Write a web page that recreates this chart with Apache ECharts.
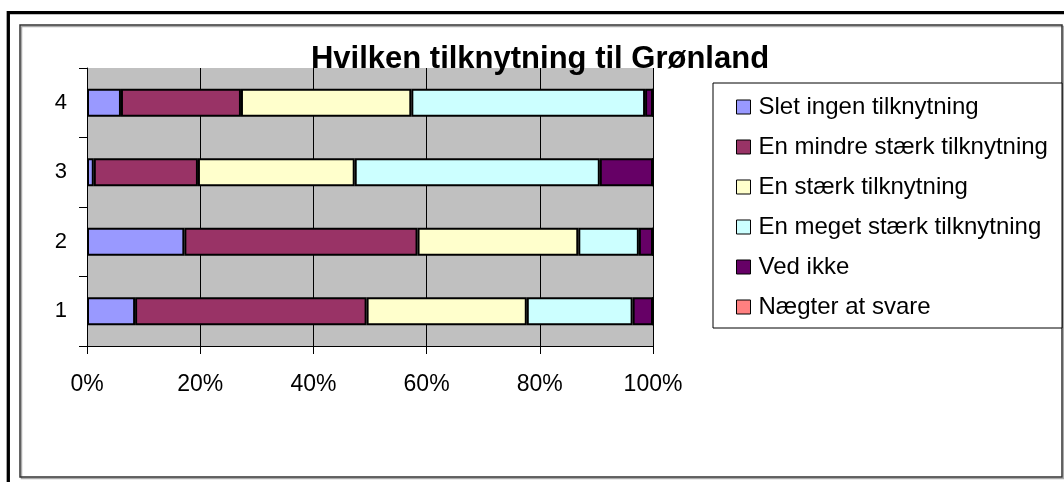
<!DOCTYPE html>
<html>
<head>
<meta charset="utf-8">
<script src="https://cdn.jsdelivr.net/npm/echarts@6/dist/echarts.min.js"></script>
<style>
html,body{margin:0;padding:0;background:#fff;}
#c{width:1064px;height:482px;}
</style>
</head>
<body>
<div id="c"></div>
<script>
const categories = ['1', '2', '3', '4'];
const xTicks = [0, 20, 40, 60, 80, 100];
const seriesNames = ['Slet ingen tilknytning', 'En mindre stærk tilknytning', 'En stærk tilknytning', 'En meget stærk tilknytning', 'Ved ikke', 'Nægter at svare'];
const sletIngen = [8.5, 17.2, 1.2, 6.0];
const mindreStaerk = [40.9, 41.2, 18.4, 21.2];
const staerk = [28.3, 28.4, 27.7, 30.1];
const megetStaerk = [18.7, 10.7, 43.3, 41.3];
const vedIkke = [3.6, 2.5, 9.4, 1.4];
const naegter = [0, 0, 0, 0];
const titleText = 'Hvilken tilknytning til Grønland';

const colors = ['#9999FF', '#993366', '#FFFFCC', '#CCFFFF', '#660066', '#FF8080'];
const values = [sletIngen, mindreStaerk, staerk, megetStaerk, vedIkke, naegter];
const FONT = "'Liberation Sans', Arial, sans-serif";

const chart = echarts.init(document.getElementById('c'), null, {renderer: 'canvas'});
chart.setOption({
  animation: false,
  backgroundColor: '#fff',
  textStyle: {fontFamily: FONT},
  grid: {left: 87, right: 411, top: 68, bottom: 136, show: true, backgroundColor: '#C0C0C0', borderWidth: 0, containLabel: false},
  xAxis: {
    type: 'value', min: xTicks[0], max: xTicks[xTicks.length - 1], interval: 20,
    axisLine: {show: true, lineStyle: {color: '#000', width: 1}},
    axisTick: {show: true, length: 8, lineStyle: {color: '#000'}},
    splitLine: {show: true, lineStyle: {color: '#000', width: 1}},
    axisLabel: {formatter: '{value}%', margin: 27, fontSize: 23, color: '#000', fontFamily: FONT}
  },
  yAxis: {
    type: 'category', data: categories,
    axisLine: {show: true, lineStyle: {color: '#000', width: 1}},
    axisTick: {show: true, length: 8, alignWithLabel: false, lineStyle: {color: '#000'}},
    splitLine: {show: false},
    axisLabel: {margin: 20, fontSize: 22, color: '#000', fontFamily: FONT}
  },
  legend: {
    orient: 'vertical', left: 731, top: 82, itemWidth: 14, itemHeight: 14, itemGap: 0,
    icon: 'rect', selectedMode: false,
    itemStyle: {borderColor: '#000', borderWidth: 1},
    textStyle: {fontSize: 24, color: '#000', lineHeight: 40, fontFamily: FONT, padding: [0, 0, 0, 3]},
    data: seriesNames
  },
  graphic: [
    {type: 'rect', z: -10, shape: {x: 8.3, y: 12.7, width: 1070, height: 490}, style: {fill: 'none', stroke: '#000', lineWidth: 3.3}},
    {type: 'rect', z: -10, shape: {x: 21.5, y: 26.5, width: 1042, height: 452}, style: {fill: 'none', stroke: '#aaa', lineWidth: 1.5}},
    {type: 'rect', z: -9, shape: {x: 20, y: 25, width: 1042, height: 452}, style: {fill: 'none', stroke: '#333', lineWidth: 1.5}},
    {type: 'rect', z: -8, shape: {x: 713, y: 83, width: 349, height: 245}, style: {fill: '#fff', stroke: '#000', lineWidth: 1}},
    {type: 'text', z: 100, x: 540, y: 59, style: {text: titleText, font: "bold 31px 'Liberation Sans', Arial, sans-serif", fill: '#000', textAlign: 'center', textVerticalAlign: 'middle'}}
  ],
  series: seriesNames.map((n, i) => ({
    name: n, type: 'bar', stack: 'all', barWidth: '40%',
    data: values[i],
    itemStyle: {color: colors[i], borderColor: '#000', borderWidth: 2},
    emphasis: {disabled: true}
  }))
});
</script>
</body>
</html>
